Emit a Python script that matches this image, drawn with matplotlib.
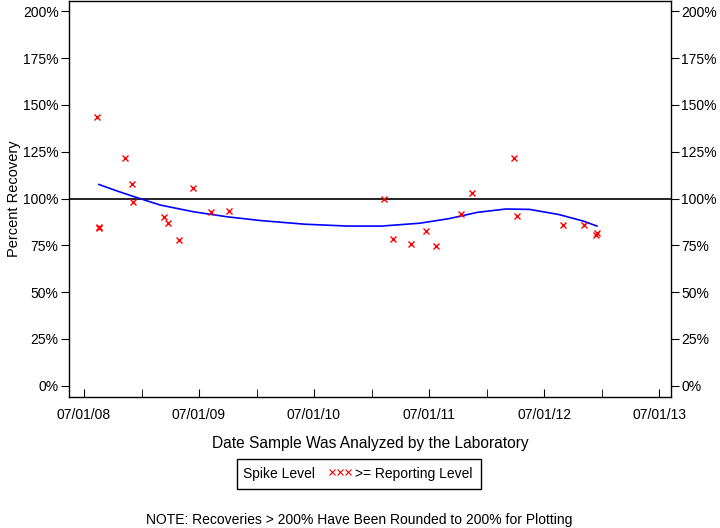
#!/usr/bin/env python3
"""Percent recovery of spike samples vs analysis date, with smoothed trend."""

from datetime import datetime

import matplotlib
matplotlib.use("Agg")
import matplotlib.pyplot as plt
import matplotlib.dates as mdates
from matplotlib.lines import Line2D
from matplotlib.patches import Rectangle
from matplotlib.ticker import FixedLocator, FuncFormatter

plt.rcParams["font.family"] = ["Liberation Sans", "DejaVu Sans"]

# spike recoveries (>= reporting level)
sample_dates = [
    "2008-08-12", "2008-08-18", "2008-08-19", "2008-11-09", "2008-12-02",
    "2008-12-03", "2009-03-13", "2009-03-24", "2009-04-30", "2009-06-13",
    "2009-08-09", "2009-10-04", "2011-02-07", "2011-03-08", "2011-05-06",
    "2011-06-23", "2011-07-24", "2011-10-10", "2011-11-15", "2012-03-26",
    "2012-04-06", "2012-08-28", "2012-11-04", "2012-12-13", "2012-12-14",
]
recovery = [
    143.8, 85.0, 84.2, 121.8, 107.7,
    98.3, 90.0, 86.8, 77.9, 105.4,
    92.6, 93.1, 99.5, 78.2, 75.5,
    82.8, 74.5, 91.9, 102.7, 121.9,
    90.5, 85.7, 85.7, 80.7, 81.5,
]

# smoothed trend
trend_dates = [
    "2008-08-18", "2008-10-15", "2008-12-20", "2009-03-01", "2009-06-15",
    "2009-10-01", "2010-01-15", "2010-06-01", "2010-10-15", "2011-02-01",
    "2011-06-01", "2011-09-01", "2011-12-01", "2012-03-01", "2012-05-15",
    "2012-08-15", "2012-11-01", "2012-12-15",
]
trend = [
    107.5, 104.0, 100.3, 96.5, 92.9,
    90.2, 88.2, 86.3, 85.3, 85.3,
    86.8, 89.2, 92.6, 94.4, 94.2,
    91.5, 88.0, 85.3,
]

y_ticks = [0, 25, 50, 75, 100, 125, 150, 175, 200]


def to_dt(s):
    return datetime.strptime(s, "%Y-%m-%d")


fig = plt.figure(figsize=(7.2, 5.28), dpi=100)
ax = fig.add_axes([69 / 720, 1 - 397 / 528, 602 / 720, 396 / 528])

ax.axhline(100, color="black", linewidth=1.2, zorder=1)
ax.plot([to_dt(d) for d in trend_dates], trend, color="blue", linewidth=1.2, zorder=2)
ax.plot([to_dt(d) for d in sample_dates], recovery, linestyle="none", marker="x",
        markersize=5, markeredgewidth=1.0, color="red", zorder=3)

ax.set_xlim(datetime(2008, 5, 15), datetime(2013, 8, 7))
ax.set_ylim(-6, 205.5)

ax.xaxis.set_major_locator(mdates.MonthLocator(bymonth=7, bymonthday=1))
ax.xaxis.set_major_formatter(mdates.DateFormatter("%m/%d/%y"))
ax.xaxis.set_minor_locator(mdates.MonthLocator(bymonth=1, bymonthday=1))
ax.tick_params(axis="x", which="major", direction="in", length=6, top=False,
               labelsize=10, pad=8)
ax.tick_params(axis="x", which="minor", direction="in", length=6, top=False)

ax.yaxis.set_major_locator(FixedLocator(y_ticks))
ax.yaxis.set_major_formatter(FuncFormatter(lambda v, p: f"{v:.0f}%"))
ax.tick_params(axis="y", direction="out", length=6, left=True, right=True,
               labelleft=True, labelright=True, labelsize=10, pad=1.5)

for side in ax.spines.values():
    side.set_linewidth(1.0)

ax.set_xlabel("Date Sample Was Analyzed by the Laboratory", fontsize=11.2, labelpad=10)
ax.set_ylabel("Percent Recovery", fontsize=10.5)
ax.yaxis.set_label_coords(-0.08, 0.502)

# legend box
fig.add_artist(Rectangle((237 / 720, 1 - 489 / 528), 244 / 720, 30 / 528,
                         transform=fig.transFigure, fill=False,
                         edgecolor="black", linewidth=1.0))
fig.text(243 / 720, 1 - 474 / 528, "Spike Level", fontsize=10, va="center", ha="left")
fig.add_artist(Line2D([332 / 720, 340 / 720, 348 / 720],
                      [1 - 472 / 528] * 3, transform=fig.transFigure,
                      linestyle="none", marker="x", markersize=4.5,
                      markeredgewidth=0.8, color="red"))
fig.text(355 / 720, 1 - 474 / 528, ">= Reporting Level", fontsize=10,
         va="center", ha="left")

fig.text(359 / 720, 1 - 520 / 528,
         "NOTE: Recoveries > 200% Have Been Rounded to 200% for Plotting",
         fontsize=10, ha="center", va="center")

fig.savefig("out.png", dpi=100)
